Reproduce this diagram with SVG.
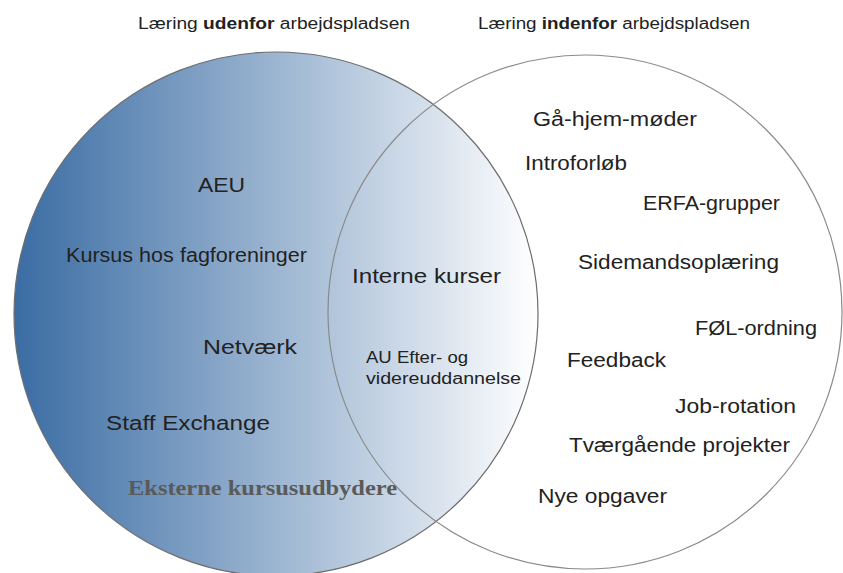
<svg xmlns="http://www.w3.org/2000/svg" width="843" height="573" viewBox="0 0 843 573">
<defs>
<linearGradient id="blueFade" x1="0" y1="0" x2="1" y2="0">
<stop offset="0" stop-color="#3a6ca3"/>
<stop offset="0.5" stop-color="#9cb5d1"/>
<stop offset="1" stop-color="#ffffff"/>
</linearGradient>
</defs>
<style>
.lbl{font-family:"Liberation Sans","DejaVu Sans",sans-serif;font-size:20px;fill:#222}
.ttl{font-family:"Liberation Sans","DejaVu Sans",sans-serif;font-size:16px;fill:#222}
.sm{font-family:"Liberation Sans","DejaVu Sans",sans-serif;font-size:16px;fill:#222}
.ser{font-family:"Liberation Serif","DejaVu Serif",serif;font-size:21px;font-weight:bold;fill:#5a5a5a}
.circ{stroke-width:1.2}
</style>
<rect width="843" height="573" fill="#ffffff"/>
<g id="circle-outside">
<circle class="circ" cx="276" cy="314" r="262" fill="url(#blueFade)" stroke="#6e6e6e"/>
</g>
<g id="circle-inside">
<circle class="circ" cx="585" cy="312" r="257" fill="none" stroke="#8a8a8a"/>
</g>
<g id="titles">
<text class="ttl" x="138" y="29" textLength="272" lengthAdjust="spacingAndGlyphs">Læring <tspan font-weight="bold">udenfor</tspan> arbejdspladsen</text>
<text class="ttl" x="478" y="29" textLength="272" lengthAdjust="spacingAndGlyphs">Læring <tspan font-weight="bold">indenfor</tspan> arbejdspladsen</text>
</g>
<g id="outside-items">
<text id="aeu" class="lbl" x="198" y="192" textLength="47" lengthAdjust="spacingAndGlyphs">AEU</text>
<text id="kursus" class="lbl" x="66" y="262" textLength="241" lengthAdjust="spacingAndGlyphs">Kursus hos fagforeninger</text>
<text id="netvaerk" class="lbl" x="203" y="354" textLength="94" lengthAdjust="spacingAndGlyphs">Netværk</text>
<text id="staff" class="lbl" x="106" y="430" textLength="164" lengthAdjust="spacingAndGlyphs">Staff Exchange</text>
<text id="eksterne" class="ser" x="128" y="495" textLength="269" lengthAdjust="spacingAndGlyphs">Eksterne kursusudbydere</text>
</g>
<g id="overlap-items">
<text id="interne" class="lbl" x="352" y="283" textLength="149" lengthAdjust="spacingAndGlyphs">Interne kurser</text>
<text id="au" class="sm" x="366" y="363" textLength="102" lengthAdjust="spacingAndGlyphs">AU Efter- og</text>
<text id="au2" class="sm" x="366" y="384" textLength="155" lengthAdjust="spacingAndGlyphs">videreuddannelse</text>
</g>
<g id="inside-items">
<text id="gaahjem" class="lbl" x="533" y="126" textLength="164" lengthAdjust="spacingAndGlyphs">Gå-hjem-møder</text>
<text id="intro" class="lbl" x="525" y="170" textLength="102" lengthAdjust="spacingAndGlyphs">Introforløb</text>
<text id="erfa" class="lbl" x="643" y="210" textLength="137" lengthAdjust="spacingAndGlyphs">ERFA-grupper</text>
<text id="sidemand" class="lbl" x="578" y="269" textLength="201" lengthAdjust="spacingAndGlyphs">Sidemandsoplæring</text>
<text id="fol" class="lbl" x="695" y="335" textLength="122" lengthAdjust="spacingAndGlyphs">FØL-ordning</text>
<text id="feedback" class="lbl" x="567" y="367" textLength="99" lengthAdjust="spacingAndGlyphs">Feedback</text>
<text id="job" class="lbl" x="675" y="413" textLength="121" lengthAdjust="spacingAndGlyphs">Job-rotation</text>
<text id="tvaer" class="lbl" x="569" y="452" textLength="221" lengthAdjust="spacingAndGlyphs">Tværgående projekter</text>
<text id="nye" class="lbl" x="538" y="503" textLength="129" lengthAdjust="spacingAndGlyphs">Nye opgaver</text>
</g>
</svg>
